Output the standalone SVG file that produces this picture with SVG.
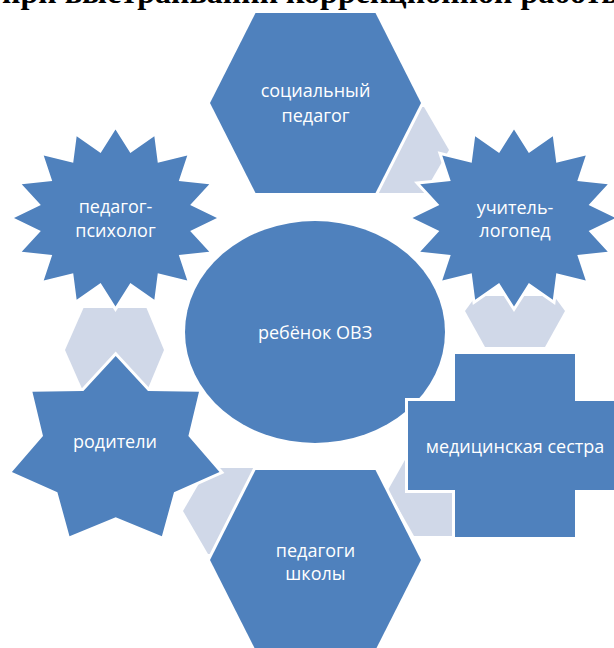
<svg xmlns="http://www.w3.org/2000/svg" width="614" height="648" viewBox="0 0 614 648">
<style>
.node{fill:#4F81BD;stroke:#FFFFFF;stroke-width:6;paint-order:stroke}
.conn{fill:#D0D8E8}
.lbl{font-family:"Open Sans","Liberation Sans",sans-serif;font-size:18px;fill:#FFFFFF;text-anchor:middle}
.title{font-family:"Liberation Serif",serif;font-weight:bold;font-size:32px;fill:#000000}
</style>
<defs>
<polygon id="star16" points="0,-88.5 14.85,-65.1 38.84,-81.76 42.29,-55.19 71.77,-62.58 63.3,-36.88 93.77,-33.87 74.66,-12.95 101.5,0 74.66,12.95 93.77,33.87 63.3,36.88 71.77,62.58 42.29,55.19 38.84,81.76 14.85,65.1 0,88.5 -14.85,65.1 -38.84,81.76 -42.29,55.19 -71.77,62.58 -63.3,36.88 -93.77,33.87 -74.66,12.95 -101.5,0 -74.66,-12.95 -93.77,-33.87 -63.3,-36.88 -71.77,-62.58 -42.29,-55.19 -38.84,-81.76 -14.85,-65.1"/>
</defs>
<text class="title" x="2" y="3">при выстраивании коррекционной работы</text>
<g id="connectors">
<polygon class="conn" points="350,150 375,107 424,107 449,150 424,193 375,193"/>
<polygon class="conn" points="465,311 476,296 554,296 565,311 545,347 485,347"/>
<polygon class="conn" points="388,490 414,444 468,444 494,490 468,536 414,536"/>
<polygon class="conn" points="183,511 208,468 258,468 283,511 258,554 208,554"/>
<polygon class="conn" points="65,350 83.5,308 146.5,308 164,350 146.5,392 83.5,392"/>
</g>
<g id="child">
<ellipse class="node" cx="315" cy="332" rx="130" ry="111"/>
<text class="lbl" x="315" y="339">ребёнок ОВЗ</text>
</g>
<g id="social-pedagog">
<polygon class="node" points="255.5,13 375.5,13 421,103 375.5,193 255.5,193 210,103"/>
<text class="lbl" x="315.5" y="97">социальный</text>
<text class="lbl" x="315.5" y="122">педагог</text>
</g>
<g id="logoped" transform="translate(514,218)">
<use href="#star16" class="node"/>
<text class="lbl" x="1" y="-4">учитель-</text>
<text class="lbl" x="1" y="19">логопед</text>
</g>
<g id="nurse">
<polygon class="node" points="455,354 575,354 575,401 622,401 622,490 575,490 575,537 455,537 455,490 408,490 408,401 455,401"/>
<text class="lbl" x="515" y="452.5">медицинская сестра</text>
</g>
<g id="school-teachers">
<polygon class="node" points="255.5,470 375.5,470 421,560 375.5,650 255.5,650 210,560"/>
<text class="lbl" x="315.5" y="557">педагоги</text>
<text class="lbl" x="315.5" y="580">школы</text>
</g>
<g id="parents">
<polygon class="node" points="115.7,356 148,391 199,391.7 188.4,436 219.5,471.9 174,492.2 161.9,536.2 115.7,517.2 69.5,536.2 57.4,492.2 11.9,471.9 43,436 32.4,391.7 83.4,391"/>
<text class="lbl" x="115" y="448">родители</text>
</g>
<g id="psychologist" transform="translate(115.5,218)">
<use href="#star16" class="node"/>
<text class="lbl" x="0" y="-5">педагог-</text>
<text class="lbl" x="0" y="18.5">психолог</text>
</g>
</svg>
